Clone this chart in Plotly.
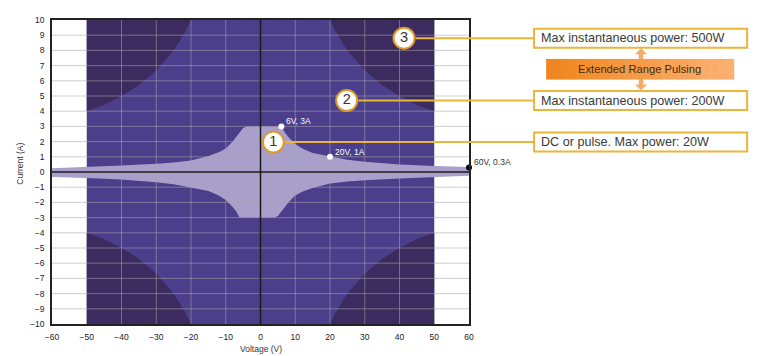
import plotly.graph_objects as go

# ---------------- data ----------------
x_ticks = [-60, -50, -40, -30, -20, -10, 0, 10, 20, 30, 40, 50, 60]
x_ticktext = ["\u221260", "\u221250", "\u221240", "\u221230", "\u221220", "\u221210", "0",
              "10", "20", "30", "40", "50", "60"]
y_ticks = [-10, -9, -8, -7, -6, -5, -4, -3, -2, -1, 0, 1, 2, 3, 4, 5, 6, 7, 8, 9, 10]
y_ticktext = [("\u2212" + str(-v)) if v < 0 else str(v) for v in y_ticks]
x_grid = [-40, -30, -20, -10, 10, 20, 30, 40]
y_grid = [-9, -8, -7, -6, -5, -4, -3, -2, -1, 1, 2, 3, 4, 5, 6, 7, 8, 9]

# extended pulse envelope (voltage / current limits)
env_v = [-50, 50]
env_i = [-10, 10]

# 200 W boundary (first quadrant, mirrored to the others)
hyp_v = [20, 22, 25, 30, 35, 40, 45, 50]
hyp_i = [10.0, 9.1, 8.0, 6.7, 5.7, 5.0, 4.4, 4.0]

# 20 W DC / pulse region
dc_upper_v = [-60, -50, -40, -30, -25, -20, -17, -15, -12, -10, -8, -6, -5, -4,
              6, 7, 8, 10, 12, 15, 20, 25, 30, 40, 50, 60]
dc_upper_i = [0.24, 0.32, 0.42, 0.54, 0.62, 0.75, 0.9, 1.05, 1.3, 1.55, 2.0, 2.6, 2.9, 3.0,
              3.0, 2.6, 2.3, 1.85, 1.55, 1.25, 1.0, 0.8, 0.67, 0.5, 0.4, 0.33]
dc_lower_v = [60, 50, 40, 30, 25, 20, 17, 15, 12, 10, 8, 6, 5, 4,
              -6, -7, -8, -10, -12, -15, -20, -25, -30, -40, -50, -60]
dc_lower_i = [-0.24, -0.32, -0.42, -0.54, -0.62, -0.75, -0.9, -1.05, -1.3, -1.55, -2.0, -2.6, -2.9, -3.0,
              -3.0, -2.6, -2.3, -1.85, -1.55, -1.25, -1.0, -0.8, -0.67, -0.5, -0.4, -0.33]

# marked operating points
pt_v = [6, 20, 60]
pt_i = [3, 1, 0.3]
pt_text = ["6V, 3A", "20V, 1A", "60V, 0.3A"]
pt_color = ["white", "white", "black"]
pt_text_color = ["white", "white", "#333333"]

# numbered callouts
call_v = [3.7, 24.8, 41.3]
call_i = [1.97, 4.7, 8.8]
call_num = ["1", "2", "3"]
call_text = ["DC or pulse. Max power: 20W",
             "Max instantaneous power: 200W",
             "Max instantaneous power: 500W"]
pulse_text = "Extended Range Pulsing"

# ---------------- colours ----------------
C_MID = "#4b3f8b"
C_DARK = "#3c2b5e"
C_LIGHT = "#a99fcb"
C_GRID = "rgba(170,164,172,0.55)"
C_GOLD = "#ecb53c"
C_RING = "#dc9a2a"
C_ARROW = "#f4ac6c"

X_RANGE = [-60, 60]
Y_RANGE = [-10, 10]
PLOT_H = 304.0
PLOT_W = 417.0


def xp(v):
    return (v - X_RANGE[0]) / (X_RANGE[1] - X_RANGE[0])


def yp(i):
    return (i - Y_RANGE[0]) / (Y_RANGE[1] - Y_RANGE[0])


fig = go.Figure()

# envelope
fig.add_trace(go.Scatter(
    x=[env_v[0], env_v[1], env_v[1], env_v[0], env_v[0]],
    y=[env_i[0], env_i[0], env_i[1], env_i[1], env_i[0]],
    fill="toself", fillcolor=C_MID, line=dict(width=0), mode="lines",
    hoverinfo="skip", showlegend=False))

# 500 W zones (outside 200 W hyperbola)
for sx in (1, -1):
    for sy in (1, -1):
        xs = [sx * v for v in hyp_v] + [sx * env_v[1]]
        ys = [sy * i for i in hyp_i] + [sy * env_i[1]]
        fig.add_trace(go.Scatter(
            x=xs, y=ys, fill="toself", fillcolor=C_DARK, line=dict(width=0),
            mode="lines", hoverinfo="skip", showlegend=False))

# 20 W zone
fig.add_trace(go.Scatter(
    x=dc_upper_v + dc_lower_v, y=dc_upper_i + dc_lower_i,
    fill="toself", fillcolor=C_LIGHT, line=dict(width=0), mode="lines",
    hoverinfo="skip", showlegend=False))

# grid overlay
gx, gy = [], []
for y in y_grid:
    gx += [X_RANGE[0], X_RANGE[1], None]
    gy += [y, y, None]
for x in x_grid:
    gx += [x, x, None]
    gy += [Y_RANGE[0], Y_RANGE[1], None]
fig.add_trace(go.Scatter(x=gx, y=gy, mode="lines", line=dict(color=C_GRID, width=1),
                         hoverinfo="skip", showlegend=False))

# zero lines
fig.add_trace(go.Scatter(
    x=[X_RANGE[0], X_RANGE[1], None, 0, 0], y=[0, 0, None, Y_RANGE[0], Y_RANGE[1]],
    mode="lines", line=dict(color="#1a1a1a", width=1.5), hoverinfo="skip", showlegend=False))

# operating points
fig.add_trace(go.Scatter(
    x=pt_v, y=pt_i, mode="markers",
    marker=dict(size=6, color=pt_color, line=dict(width=0)),
    cliponaxis=False, hoverinfo="skip", showlegend=False))
for v, i, t, c in zip(pt_v, pt_i, pt_text, pt_text_color):
    fig.add_annotation(x=v, y=i, text=t, showarrow=False, xanchor="left", yanchor="middle",
                       xshift=3, yshift=5, font=dict(size=8.5, color=c, family="Liberation Sans"))

# callout circles
fig.add_trace(go.Scatter(
    x=call_v, y=call_i, mode="markers+text", text=call_num, textposition="middle center",
    textfont=dict(size=14.5, color="#333333", family="Liberation Sans"),
    marker=dict(size=21, color="white", line=dict(color=C_RING, width=2)),
    cliponaxis=False, hoverinfo="skip", showlegend=False))

shapes = []
BOX_X0, BOX_X1 = 1.156, 1.667
BOX_H = 0.0625
RING_R = 11.5 / PLOT_W
for v, i, t in zip(call_v, call_i, call_text):
    shapes.append(dict(type="line", xref="paper", yref="paper",
                       x0=xp(v) + RING_R, x1=BOX_X0, y0=yp(i), y1=yp(i),
                       line=dict(color=C_GOLD, width=2), layer="above"))
    fig.add_annotation(xref="paper", yref="paper", x=BOX_X0 + 0.011, y=yp(i), text=t,
                       showarrow=False, xanchor="left", yanchor="middle",
                       font=dict(size=12.6, color="#3a3a3a", family="Liberation Sans"))

# double-headed arrow between the 500 W and 200 W boxes (behind the orange box)
AX = 1.4125
top_box_bottom = yp(call_i[2]) - BOX_H / 2
mid_box_top = yp(call_i[1]) + BOX_H / 2
sw = 2.2 / PLOT_W   # stem half-width
hw = 6.0 / PLOT_W   # head half-width
hh = 6.0 / PLOT_H   # head height
ya, yb = top_box_bottom - 0.002, mid_box_top + 0.002
path = ("M {x},{ya} L {r},{yah} L {sr},{yah} L {sr},{ybh} L {r},{ybh} L {x},{yb} "
        "L {l},{ybh} L {sl},{ybh} L {sl},{yah} L {l},{yah} Z").format(
    x=AX, ya=ya, yb=yb, yah=ya - hh, ybh=yb + hh,
    r=AX + hw, l=AX - hw, sr=AX + sw, sl=AX - sw)
shapes.append(dict(type="path", xref="paper", yref="paper", path=path,
                   fillcolor=C_ARROW, line=dict(width=0), layer="above"))

# boxes
for i in call_i:
    shapes.append(dict(type="rect", xref="paper", yref="paper",
                       x0=BOX_X0, x1=BOX_X1, y0=yp(i) - BOX_H / 2, y1=yp(i) + BOX_H / 2,
                       fillcolor="rgba(255,255,255,0)", line=dict(color=C_GOLD, width=2),
                       layer="above"))

# orange "Extended Range Pulsing" box (horizontal gradient via strips)
OB_X0, OB_X1, OB_Y0, OB_Y1 = 1.185, 1.635, 0.804, 0.872
n = 24
c0 = (240, 134, 30)
c1 = (251, 176, 112)
for k in range(n):
    f = k / (n - 1)
    col = "rgb(%d,%d,%d)" % tuple(round(a + (b - a) * f) for a, b in zip(c0, c1))
    shapes.append(dict(type="rect", xref="paper", yref="paper",
                       x0=OB_X0 + (OB_X1 - OB_X0) * k / n,
                       x1=OB_X0 + (OB_X1 - OB_X0) * (k + 1) / n + 0.001,
                       y0=OB_Y0, y1=OB_Y1, fillcolor=col, line=dict(width=0), layer="above"))
fig.add_annotation(xref="paper", yref="paper", x=(OB_X0 + OB_X1) / 2, y=(OB_Y0 + OB_Y1) / 2,
                   text=pulse_text, showarrow=False, xanchor="center", yanchor="middle",
                   font=dict(size=11.2, color="#4a2a12", family="Liberation Sans"))

# axis titles
fig.add_annotation(xref="paper", yref="paper", x=0.5, y=-0.081, text="Voltage (V)",
                   showarrow=False, xanchor="center", yanchor="middle",
                   font=dict(size=8.5, color="#333333", family="Liberation Sans"))
fig.add_annotation(xref="paper", yref="paper", x=-0.077, y=0.527, text="Current (A)",
                   showarrow=False, textangle=-90, xanchor="center", yanchor="middle",
                   font=dict(size=8.5, color="#333333", family="Liberation Sans"))

fig.update_layout(
    width=767, height=356,
    margin=dict(l=52, r=298, t=20, b=32),
    paper_bgcolor="white", plot_bgcolor="white",
    shapes=shapes,
    font=dict(family="Liberation Sans", size=8.5, color="#222222"),
    xaxis=dict(range=X_RANGE, tickvals=x_ticks, ticktext=x_ticktext, showgrid=False,
               zeroline=False, showline=True, mirror=True, linecolor="#222222", linewidth=1.5,
               ticks="", ticklabelstandoff=4, automargin=False, fixedrange=True,
               tickfont=dict(size=8.5, color="#222222")),
    yaxis=dict(range=Y_RANGE, tickvals=y_ticks, ticktext=y_ticktext, showgrid=False,
               zeroline=False, showline=True, mirror=True, linecolor="#222222", linewidth=1.5,
               ticks="", ticklabelstandoff=4, automargin=False, fixedrange=True,
               tickfont=dict(size=8.5, color="#222222")),
)

fig.write_html("out.html", config={"displayModeBar": False},
               post_script="document.body.style.margin='0';document.body.style.overflow='hidden';")
